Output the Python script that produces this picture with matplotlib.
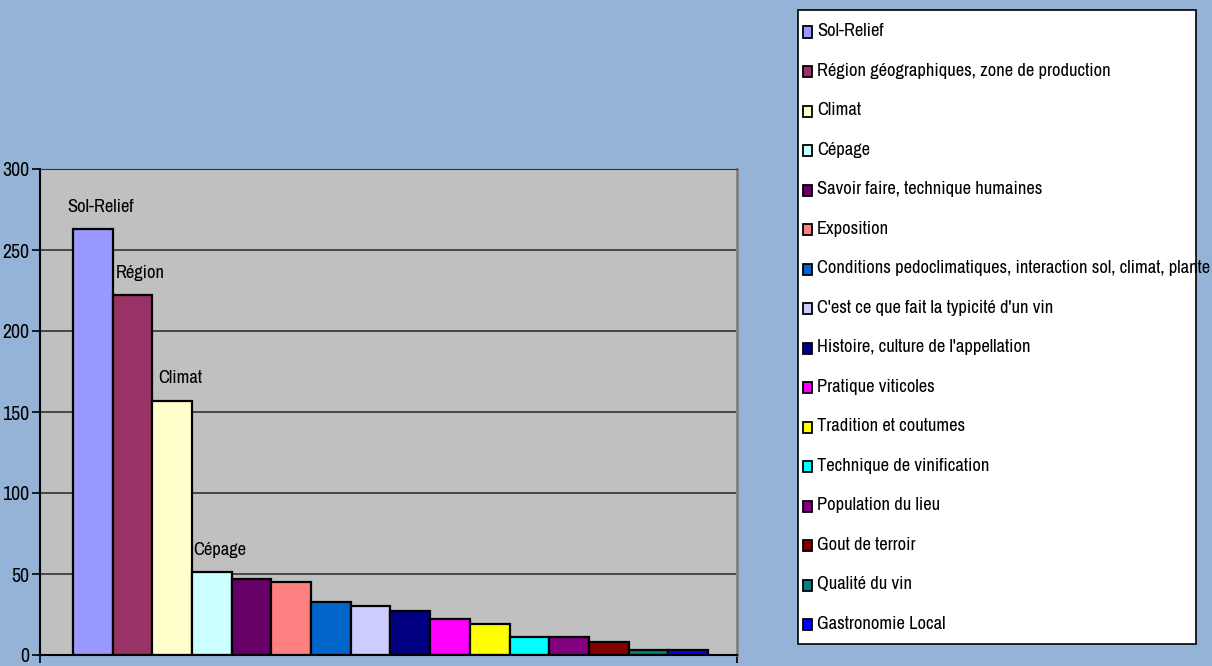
import matplotlib.pyplot as plt
from matplotlib import font_manager
from matplotlib.patches import Rectangle

categories = [
    "Sol-Relief",
    "Région géographiques, zone de production",
    "Climat",
    "Cépage",
    "Savoir faire, technique humaines",
    "Exposition",
    "Conditions pedoclimatiques, interaction sol, climat, plante",
    "C'est ce que fait la typicité d'un vin",
    "Histoire, culture de l'appellation",
    "Pratique viticoles",
    "Tradition et coutumes",
    "Technique de vinification",
    "Population du lieu",
    "Gout de terroir",
    "Qualité du vin",
    "Gastronomie Local",
]
values = [263, 222, 157, 51, 47, 45, 33, 30, 27, 22, 19, 11, 11, 8, 3, 3]
colors = ["#9999FF", "#993366", "#FFFFCC", "#CCFFFF", "#660066", "#FF8080",
          "#0066CC", "#CCCCFF", "#000080", "#FF00FF", "#FFFF00", "#00FFFF",
          "#800080", "#800000", "#008080", "#0000FF"]
bar_labels = {0: "Sol-Relief", 1: "Région", 2: "Climat", 3: "Cépage"}
yticks = [0, 50, 100, 150, 200, 250, 300]

W, H = 1212, 666

# narrow sans font like Arial Narrow, if one is around
installed = {f.name for f in font_manager.fontManager.ttflist}
narrow = next((n for n in ['Liberation Sans Narrow', 'Arial Narrow', 'Archivo Narrow',
                           'PT Sans Narrow', 'Roboto Condensed', 'Pragati Narrow',
                           'Open Sans Condensed', 'Encode Sans Condensed']
               if n in installed), 'Liberation Sans')
plt.rcParams['font.family'] = [narrow, 'Liberation Sans', 'DejaVu Sans']

fig = plt.figure(figsize=(W / 100, H / 100), dpi=100)
fig.patch.set_facecolor('#95B3D7')


def fit_size(text, target_px, weight='normal'):
    # font size that makes `text` about target_px wide
    t = fig.text(0, 0, text, fontsize=10, weight=weight)
    w = t.get_window_extent(renderer=fig.canvas.get_renderer()).width
    t.remove()
    return 10 * target_px / w


fs = fit_size("Sol-Relief", 67)
fs_tick = fit_size("300", 27, 'bold')

ax = fig.add_axes([40 / W, 11 / H, 697 / W, 486 / H])
ax.set_facecolor('#C0C0C0')
ax.set_axisbelow(True)

x = list(range(len(values)))
ax.bar(x, values, width=1.0, color=colors, edgecolor='black', linewidth=1.6)

for i, txt in bar_labels.items():
    ax.annotate(txt, (x[i] + 0.2, values[i]), xytext=(0, 16), textcoords='offset points',
                ha='center', va='center', fontsize=fs)

ax.set_xlim(-1.33, len(values) + 0.23)
ax.set_ylim(0, 300)
ax.set_yticks(yticks)
ax.set_yticklabels([str(t) for t in yticks], fontsize=fs_tick, fontweight='bold')
ax.yaxis.grid(True, color='#333333', linewidth=1.2)
ax.set_xticks([-1.33, len(values) + 0.23])
ax.set_xticklabels(['', ''])
ax.tick_params(axis='both', direction='out', length=6, width=1.2, color='black', pad=2)

for s in ['left', 'bottom']:
    ax.spines[s].set_color('black')
    ax.spines[s].set_linewidth(1.5)
ax.spines['top'].set_color('#333333')
ax.spines['right'].set_color('#7f7f7f')
ax.spines['right'].set_linewidth(2)

# legend, drawn by hand in a white box on the right
fig.patches.append(Rectangle((798 / W, 1 - 644 / H), 398 / W, 634 / H,
                             transform=fig.transFigure, facecolor='white',
                             edgecolor='black', linewidth=1.2, zorder=0))
row = 39.53
for i, (lab, c) in enumerate(zip(categories, colors)):
    yc = 31 + i * row
    fig.patches.append(Rectangle((803 / W, 1 - (yc + 6.5) / H), 9 / W, 11 / H,
                                 transform=fig.transFigure, facecolor=c,
                                 edgecolor='black', linewidth=1.3, zorder=2))
    fig.text(817 / W, 1 - yc / H, lab, fontsize=fs, va='center', ha='left', zorder=3)

fig.savefig('out.png', dpi=100, facecolor=fig.get_facecolor())
